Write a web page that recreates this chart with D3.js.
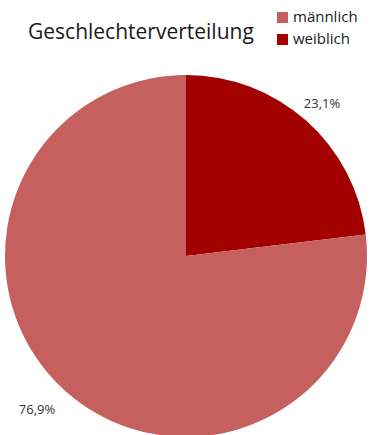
<!DOCTYPE html>
<html>
<head>
<meta charset="utf-8">
<script src="https://cdn.jsdelivr.net/npm/d3@7"></script>
<style>
  body { margin: 0; background: #fff; }
  svg text { font-family: "Open Sans", sans-serif; }
</style>
</head>
<body>
<div id="chart"></div>
<script>
// data
var categories = ["weiblich", "männlich"];
var values = [23.1, 76.9];
var labels = ["23,1%", "76,9%"];
var colors = ["#a30000", "#c6605e"];
var legendOrder = ["männlich", "weiblich"];

var width = 370, height = 435;

var svg = d3.select("#chart").append("svg")
    .attr("width", width)
    .attr("height", height);

// title
svg.append("text")
    .attr("x", 28)
    .attr("y", 39)
    .attr("font-size", 21)
    .attr("fill", "#1a1a1a")
    .text("Geschlechterverteilung");

// legend
var color = d3.scaleOrdinal().domain(categories).range(colors);

var legend = svg.selectAll(".legend")
    .data(legendOrder)
    .enter().append("g")
    .attr("class", "legend")
    .attr("transform", function(d, i) { return "translate(277," + (12 + i * 22) + ")"; });

legend.append("rect")
    .attr("width", 11)
    .attr("height", 11)
    .attr("fill", function(d) { return color(d); });

legend.append("text")
    .attr("x", 16)
    .attr("y", 10)
    .attr("font-size", 15)
    .attr("fill", "#1a1a1a")
    .text(function(d) { return d; });

// pie
var cx = 186, cy = 256, r = 181;

var pie = d3.pie().sort(null).value(function(d) { return d; });
var arc = d3.arc().innerRadius(0).outerRadius(r);

var g = svg.append("g")
    .attr("transform", "translate(" + cx + "," + cy + ")");

var arcs = pie(values);

g.selectAll("path")
    .data(arcs)
    .enter().append("path")
    .attr("d", arc)
    .attr("fill", function(d, i) { return color(categories[i]); });

// outside labels
var labelArc = d3.arc().innerRadius(r + 20).outerRadius(r + 20);
var labelPos = [
    {x: 322, y: 108},
    {x: 37, y: 414}
];

svg.selectAll(".pct")
    .data(labels)
    .enter().append("text")
    .attr("class", "pct")
    .attr("x", function(d, i) { return labelPos[i].x; })
    .attr("y", function(d, i) { return labelPos[i].y; })
    .attr("text-anchor", "middle")
    .attr("font-size", 13)
    .attr("fill", "#333")
    .text(function(d) { return d; });
</script>
</body>
</html>
